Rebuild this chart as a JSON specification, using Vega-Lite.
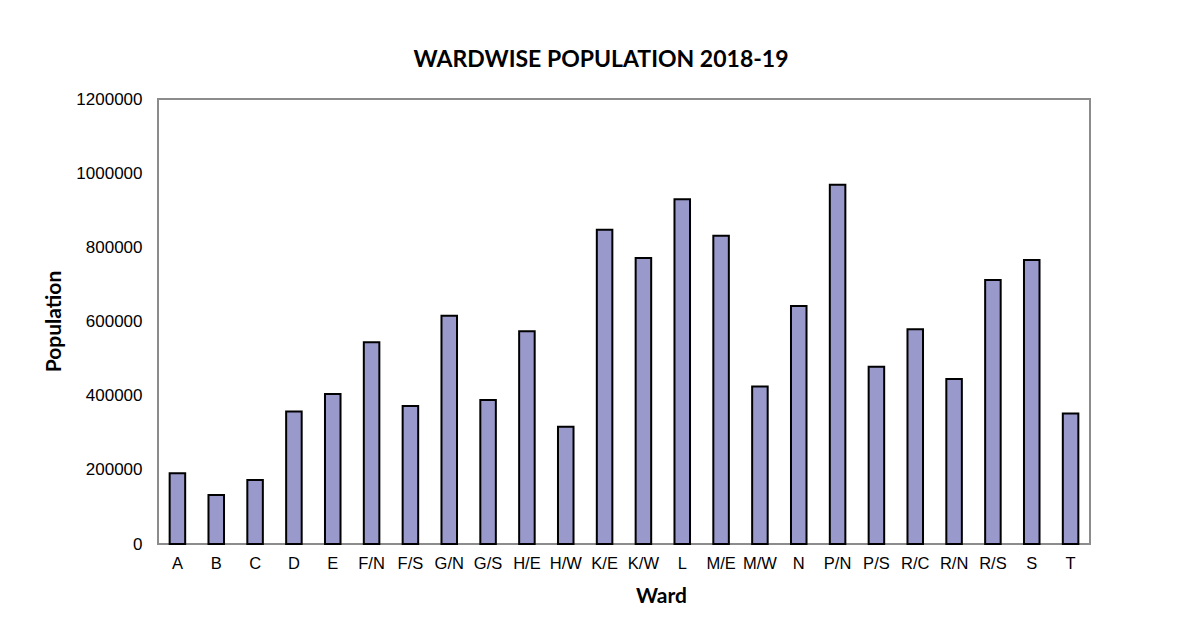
{
  "$schema": "https://vega.github.io/schema/vega-lite/v6.json",
  "width": 932,
  "height": 445,
  "autosize": {"type": "none"},
  "padding": {"left": 158, "top": 99, "right": 91, "bottom": 99},
  "background": "#ffffff",
  "title": {
    "text": "WARDWISE POPULATION 2018-19",
    "font": "Lato",
    "fontWeight": "bold",
    "fontSize": 23,
    "color": "#000000",
    "anchor": "middle",
    "dx": -23,
    "offset": 18
  },
  "data": {
    "values": [
      {"ward": "A", "population": 190700},
      {"ward": "B", "population": 132000},
      {"ward": "C", "population": 172600},
      {"ward": "D", "population": 357000},
      {"ward": "E", "population": 404500},
      {"ward": "F/N", "population": 544000},
      {"ward": "F/S", "population": 372000},
      {"ward": "G/N", "population": 615800},
      {"ward": "G/S", "population": 388000},
      {"ward": "H/E", "population": 573500},
      {"ward": "H/W", "population": 316000},
      {"ward": "K/E", "population": 847700},
      {"ward": "K/W", "population": 771000},
      {"ward": "L", "population": 929500},
      {"ward": "M/E", "population": 831500},
      {"ward": "M/W", "population": 425000},
      {"ward": "N", "population": 642000},
      {"ward": "P/N", "population": 969000},
      {"ward": "P/S", "population": 478000},
      {"ward": "R/C", "population": 579000},
      {"ward": "R/N", "population": 445000},
      {"ward": "R/S", "population": 712000},
      {"ward": "S", "population": 766000},
      {"ward": "T", "population": 352000}
    ]
  },
  "mark": {"type": "bar", "fill": "#9999cc", "stroke": "#000000", "strokeWidth": 2},
  "encoding": {
    "x": {
      "field": "ward",
      "type": "nominal",
      "sort": null,
      "scale": {"paddingInner": 0.6, "paddingOuter": 0.3},
      "axis": {
        "title": "Ward",
        "labelAngle": 0,
        "labelFont": "Liberation Sans",
        "labelFontSize": 16.5,
        "labelColor": "#000000",
        "labelPadding": 11,
        "ticks": false,
        "tickSize": 0,
        "domain": false,
        "titleFont": "Lato",
        "titleFontWeight": "bold",
        "titleFontSize": 21,
        "titleColor": "#000000",
        "titleX": 503,
        "titleY": 58,
        "titleBaseline": "alphabetic",
        "titleAnchor": "middle"
      }
    },
    "y": {
      "field": "population",
      "type": "quantitative",
      "scale": {"domain": [0, 1200000], "nice": false},
      "axis": {
        "title": "Population",
        "values": [0, 200000, 400000, 600000, 800000, 1000000, 1200000],
        "format": "d",
        "grid": false,
        "ticks": false,
        "tickSize": 0,
        "domain": false,
        "labelFont": "Liberation Sans",
        "labelFontSize": 17,
        "labelColor": "#000000",
        "labelPadding": 16,
        "titleFont": "Lato",
        "titleFontWeight": "bold",
        "titleFontSize": 21,
        "titleColor": "#000000",
        "titleX": -98,
        "titleY": 222,
        "titleBaseline": "alphabetic",
        "titleAnchor": "middle"
      }
    }
  },
  "config": {
    "view": {"stroke": "#8c8c8c", "strokeWidth": 2}
  }
}
